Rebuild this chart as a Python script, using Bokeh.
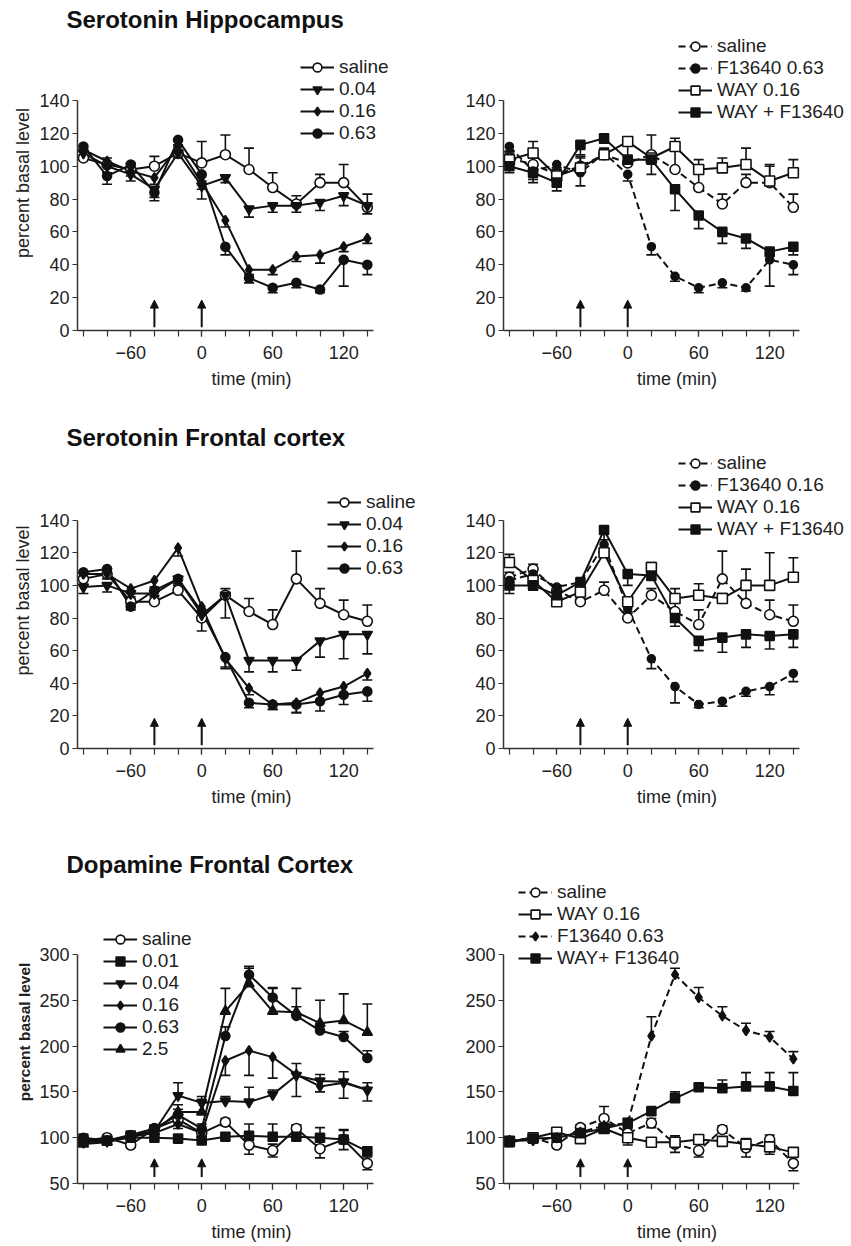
from bokeh.plotting import figure
from bokeh.models import (ColumnDataSource, Whisker, TeeHead, Legend, LegendItem,
                          FixedTicker, Range1d, Arrow, NormalHead)
from bokeh.layouts import column, row
from bokeh.embed import file_html
from bokeh.resources import INLINE

# ---------------------------------------------------------------- data
time_min = [-100, -80, -60, -40, -20, 0, 20, 40, 60, 80, 100, 120, 140]
injection_times = [-40, 0]
x_major_ticks = [-60, 0, 60, 120]
x_minor_ticks = [-100, -80, -60, -40, -20, 0, 20, 40, 60, 80, 100, 120, 140]
ticks_5ht = [0, 20, 40, 60, 80, 100, 120, 140]
ticks_da = [50, 100, 150, 200, 250, 300]

section_titles = ["Serotonin Hippocampus", "Serotonin Frontal cortex", "Dopamine Frontal Cortex"]

# Serotonin hippocampus - dose response
hippA_labels = ["saline", "0.04", "0.16", "0.63"]
hippA_saline = [105, 101, 98, 100, 108, 102, 107, 98, 87, 77, 90, 90, 75]
hippA_saline_err = [4, 4, 4, 6, 4, 13, 12, 13, 9, 5, 5, 11, 8]
hippA_004 = [108, 100, 95, 86, 108, 88, 93, 74, 76, 76, 78, 82, 76]
hippA_004_err = [3, 4, 4, 5, 3, 8, 3, 5, 4, 4, 5, 6, 5]
hippA_016 = [110, 103, 97, 93, 112, 90, 67, 37, 37, 45, 46, 51, 56]
hippA_016_err = [3, 3, 3, 4, 3, 4, 4, 3, 3, 3, 5, 3, 3]
hippA_063 = [112, 94, 101, 84, 116, 95, 51, 32, 26, 29, 25, 43, 40]
hippA_063_err = [3, 5, 3, 5, 3, 4, 5, 3, 3, 3, 2, 16, 6]

# Serotonin hippocampus - WAY100635 interaction
hippB_labels = ["saline", "F13640 0.63", "WAY 0.16", "WAY + F13640"]
hippB_saline = [105, 101, 95, 100, 107, 102, 107, 98, 87, 77, 90, 90, 75]
hippB_saline_err = [4, 4, 4, 6, 4, 13, 12, 13, 9, 6, 5, 11, 8]
hippB_f = [112, 97, 101, 96, 108, 95, 51, 33, 26, 29, 26, 43, 40]
hippB_f_err = [3, 5, 3, 8, 3, 4, 5, 3, 3, 3, 2, 16, 6]
hippB_way = [104, 108, 94, 99, 107, 115, 105, 112, 98, 99, 101, 91, 96]
hippB_way_err = [4, 7, 4, 6, 3, 2, 3, 5, 6, 6, 10, 9, 8]
hippB_wayf = [100, 96, 90, 113, 117, 104, 104, 86, 70, 60, 56, 48, 51]
hippB_wayf_err = [4, 6, 5, 6, 3, 3, 9, 13, 8, 7, 6, 3, 5]

# Serotonin frontal cortex - dose response
frA_labels = ["saline", "0.04", "0.16", "0.63"]
frA_saline = [104, 107, 90, 90, 97, 80, 94, 84, 76, 104, 89, 82, 78]
frA_saline_err = [4, 3, 3, 3, 3, 4, 4, 8, 9, 17, 9, 9, 10]
frA_004 = [99, 100, 95, 95, 104, 82, 94, 54, 54, 54, 66, 70, 70]
frA_004_err = [4, 4, 3, 4, 4, 10, 14, 7, 7, 6, 10, 15, 12]
frA_016 = [107, 107, 98, 103, 123, 87, 55, 37, 27, 28, 34, 38, 46]
frA_016_err = [3, 3, 3, 4, 5, 3, 6, 4, 3, 6, 5, 5, 4]
frA_063 = [108, 110, 87, 97, 104, 84, 56, 28, 27, 27, 29, 33, 35]
frA_063_err = [3, 3, 2, 3, 3, 6, 6, 3, 3, 5, 6, 6, 6]

# Serotonin frontal cortex - WAY100635 interaction
frB_labels = ["saline", "F13640 0.16", "WAY 0.16", "WAY + F13640"]
frB_saline = [105, 110, 97, 90, 97, 80, 94, 84, 76, 104, 89, 82, 78]
frB_saline_err = [3, 3, 3, 3, 5, 4, 4, 8, 9, 17, 9, 9, 10]
frB_f = [103, 107, 99, 102, 125, 86, 55, 38, 27, 29, 35, 38, 46]
frB_f_err = [3, 3, 3, 3, 5, 3, 6, 10, 2, 3, 3, 5, 5]
frB_way = [114, 103, 90, 96, 120, 90, 111, 92, 94, 92, 100, 100, 105]
frB_way_err = [5, 3, 3, 3, 3, 3, 3, 6, 7, 3, 10, 20, 12]
frB_wayf = [100, 100, 94, 102, 134, 107, 106, 80, 66, 68, 70, 69, 70]
frB_wayf_err = [5, 3, 3, 3, 6, 7, 3, 5, 6, 9, 8, 8, 8]

# Dopamine frontal cortex - dose response
daA_labels = ["saline", "0.01", "0.04", "0.16", "0.63", "2.5"]
daA_saline = [97, 100, 92, 110, 120, 105, 117, 92, 86, 110, 88, 98, 72]
daA_saline_err = [5, 3, 3, 3, 5, 4, 4, 10, 7, 4, 10, 11, 7]
daA_001 = [97, 97, 100, 100, 99, 97, 101, 102, 101, 101, 100, 98, 85]
daA_001_err = [6, 4, 4, 4, 3, 3, 4, 13, 14, 12, 11, 10, 5]
daA_004 = [95, 96, 103, 107, 146, 138, 140, 139, 147, 168, 162, 161, 152]
daA_004_err = [5, 4, 4, 5, 14, 7, 5, 16, 5, 13, 7, 11, 8]
daA_016 = [97, 97, 101, 105, 115, 105, 184, 195, 188, 169, 156, 160, 152]
daA_016_err = [4, 4, 4, 4, 5, 4, 16, 27, 23, 24, 6, 17, 12]
daA_063 = [100, 97, 103, 110, 125, 110, 211, 278, 253, 233, 217, 210, 187]
daA_063_err = [4, 4, 4, 4, 6, 5, 10, 9, 10, 10, 8, 6, 8]
daA_25 = [93, 95, 101, 107, 128, 128, 238, 268, 238, 237, 225, 228, 215]
daA_25_err = [4, 4, 4, 4, 8, 14, 25, 17, 26, 26, 25, 29, 31]

# Dopamine frontal cortex - WAY100635 interaction
daB_labels = ["saline", "WAY 0.16", "F13640 0.63", "WAY+ F13640"]
daB_saline = [96, 100, 92, 111, 121, 105, 116, 93, 86, 109, 89, 98, 72]
daB_saline_err = [5, 3, 3, 3, 13, 5, 5, 9, 7, 4, 10, 5, 8]
daB_way = [96, 100, 106, 99, 110, 100, 95, 95, 98, 96, 93, 90, 84]
daB_way_err = [5, 3, 3, 3, 3, 8, 3, 3, 3, 3, 3, 8, 3]
daB_f = [97, 97, 100, 106, 113, 116, 211, 278, 253, 233, 217, 210, 186]
daB_f_err = [4, 3, 3, 3, 5, 5, 21, 7, 11, 10, 8, 6, 8]
daB_wayf = [95, 99, 100, 105, 110, 116, 129, 143, 155, 154, 156, 156, 151]
daB_wayf_err = [4, 3, 3, 3, 5, 5, 4, 7, 3, 9, 15, 15, 20]

# ---------------------------------------------------------------- styles
INK = "#111111"
FONT = "Liberation Sans"
X_START = -105.0
X_BOUND_END = 145.0
PX_PER_MIN = 1.183
ENTRY_H = 22

ST = {
    "o":  dict(marker="circle", fill="white", size=10, dash="solid"),
    "o-": dict(marker="circle", fill="white", size=10, dash="7 4"),
    "v":  dict(marker="inverted_triangle", fill=INK, size=10, dash="solid"),
    "d":  dict(marker="diamond", fill=INK, size=10, dash="solid"),
    "d-": dict(marker="diamond", fill=INK, size=10, dash="7 4"),
    "c":  dict(marker="circle", fill=INK, size=9, dash="solid"),
    "c-": dict(marker="circle", fill=INK, size=8, dash="7 4"),
    "s":  dict(marker="square", fill=INK, size=9, dash="solid"),
    "so": dict(marker="square", fill="white", size=10, dash="solid"),
    "t":  dict(marker="triangle", fill=INK, size=10, dash="solid"),
}


def make_panel(series, w, h, mb_left, mb_right, mb_top, mb_bottom, y_start,
               px_per_unit, y_bound_top, y_ticks, legend_x, legend_top, arrow_span,
               title=None, title_standoff=0, ylabel=None, ylabel_bold=False, ylabel_size="18px"):
    frame_w = w - mb_left - mb_right
    frame_h = h - mb_top - mb_bottom
    x_end = X_START + frame_w / PX_PER_MIN
    y_end = y_start + frame_h / px_per_unit
    p = figure(width=w, height=h, output_backend="svg", toolbar_location=None,
               x_range=Range1d(X_START, x_end), y_range=Range1d(y_start, y_end),
               min_border_left=mb_left, min_border_right=mb_right,
               min_border_top=mb_top, min_border_bottom=mb_bottom)
    p.outline_line_color = None
    p.xgrid.visible = False
    p.ygrid.visible = False

    if title:
        p.title.text = title
        p.title.align = "left"
        p.title.offset = -11
        p.title.standoff = title_standoff
        p.title.text_font = FONT
        p.title.text_font_size = "24px"
        p.title.text_font_style = "bold"
        p.title.text_color = "#111111"

    # axes
    p.xaxis.bounds = (X_START, X_BOUND_END)
    p.xaxis.ticker = FixedTicker(ticks=x_major_ticks, minor_ticks=x_minor_ticks)
    p.yaxis.bounds = (y_start, y_bound_top)
    p.yaxis.ticker = FixedTicker(ticks=y_ticks, minor_ticks=[])
    for ax in (p.xaxis[0], p.yaxis[0]):
        ax.axis_line_color = "#333333"
        ax.axis_line_width = 1.5
        ax.major_tick_line_color = "#333333"
        ax.minor_tick_line_color = "#333333"
        ax.major_tick_line_width = 1.2
        ax.minor_tick_line_width = 1.2
        ax.major_tick_in = 0
        ax.minor_tick_in = 0
        ax.major_label_text_font = FONT
        ax.major_label_text_font_size = "18px"
        ax.major_label_text_color = "#222222"
        ax.axis_label_text_font = FONT
        ax.axis_label_text_color = "#222222"
        ax.axis_label_text_font_style = "normal"
    p.xaxis.major_tick_out = 6
    p.xaxis.minor_tick_out = 6
    p.xaxis.major_label_standoff = 9
    p.xaxis.axis_label = "time (min)"
    p.xaxis.axis_label_text_font_size = "18px"
    p.xaxis.axis_label_standoff = 7
    p.yaxis.major_tick_out = 5
    p.yaxis.major_label_standoff = 3
    if ylabel:
        p.yaxis.axis_label = ylabel
        p.yaxis.axis_label_text_font_size = ylabel_size
        p.yaxis.axis_label_text_font_style = "bold" if ylabel_bold else "normal"
        p.yaxis.axis_label_standoff = 3

    # error bars, lines, markers
    line_rs, items = [], []
    for label, vals, errs, direction, key in series:
        st = ST[key]
        up = [v + e if direction in ("up", "both") else v for v, e in zip(vals, errs)]
        lo = [v - e if direction in ("down", "both") else v for v, e in zip(vals, errs)]
        src = ColumnDataSource(dict(x=time_min, y=vals, upper=up, lower=lo))
        wh = Whisker(source=src, base="x", upper="upper", lower="lower",
                     line_color=INK, line_width=1.6,
                     upper_head=TeeHead(size=10, line_color=INK, line_width=1.6) if direction in ("up", "both") else None,
                     lower_head=TeeHead(size=10, line_color=INK, line_width=1.6) if direction in ("down", "both") else None)
        p.add_layout(wh)
        lr = p.line("x", "y", source=src, line_color=INK, line_width=2, line_dash=st["dash"])
        line_rs.append((label, lr, src, st))
    for label, lr, src, st in line_rs:
        mr = p.scatter("x", "y", source=src, marker=st["marker"], size=st["size"],
                       fill_color=st["fill"], line_color=INK, line_width=1.6)
        items.append(LegendItem(label=label, renderers=[lr, mr]))

    # legend: location is its bottom-left corner, measured from the frame's bottom-left
    legend_y = frame_h - (legend_top - mb_top) - ENTRY_H * len(items)
    legend = Legend(items=items, location=(legend_x, legend_y),
                    label_text_font=FONT, label_text_font_size="19px", label_text_color="#222222",
                    glyph_width=34, glyph_height=ENTRY_H, label_height=ENTRY_H, label_standoff=5,
                    spacing=0, padding=0, margin=0,
                    border_line_color=None, background_fill_alpha=0)
    p.add_layout(legend)

    for t in injection_times:
        p.add_layout(Arrow(x_start=t, y_start=arrow_span[0], x_end=t, y_end=arrow_span[1],
                           line_color=INK, line_width=2,
                           end=NormalHead(size=8, fill_color=INK, line_color=INK, line_width=1)))
    return p


LEFT_W, RIGHT_W = 430, 420
LEFT_MBL, RIGHT_MBL = 77, 73
ROW_H = [420, 420, 404]
ROW_MBT = [35, 30, 40]     # frames of one row share their top edge
ROW_MBB = [90, 92, 61]

pA = make_panel(
    [(hippA_labels[0], hippA_saline, hippA_saline_err, "up", "o"),
     (hippA_labels[1], hippA_004, hippA_004_err, "down", "v"),
     (hippA_labels[2], hippA_016, hippA_016_err, "down", "d"),
     (hippA_labels[3], hippA_063, hippA_063_err, "down", "c")],
    LEFT_W, ROW_H[0], LEFT_MBL, 5, ROW_MBT[0], ROW_MBB[0], 0, 1.643, 140, ticks_5ht,
    223, 56, (2, 18.5), title=section_titles[0], title_standoff=5,
    ylabel="percent basal level")
pB = make_panel(
    [(hippB_labels[0], hippB_saline, hippB_saline_err, "up", "o-"),
     (hippB_labels[1], hippB_f, hippB_f_err, "down", "c-"),
     (hippB_labels[2], hippB_way, hippB_way_err, "up", "so"),
     (hippB_labels[3], hippB_wayf, hippB_wayf_err, "down", "s")],
    RIGHT_W, ROW_H[0], RIGHT_MBL, 0, ROW_MBT[0], ROW_MBB[0], 0, 1.643, 140, ticks_5ht,
    175, 35, (2, 18.5))

pC = make_panel(
    [(frA_labels[0], frA_saline, frA_saline_err, "up", "o"),
     (frA_labels[1], frA_004, frA_004_err, "down", "v"),
     (frA_labels[2], frA_016, frA_016_err, "down", "d"),
     (frA_labels[3], frA_063, frA_063_err, "down", "c")],
    LEFT_W, ROW_H[1], LEFT_MBL, 5, ROW_MBT[1], ROW_MBB[1], 0, 1.642, 140, ticks_5ht,
    250, 71, (2, 18.5), title=section_titles[1], title_standoff=3,
    ylabel="percent basal level")
pD = make_panel(
    [(frB_labels[0], frB_saline, frB_saline_err, "up", "o-"),
     (frB_labels[1], frB_f, frB_f_err, "down", "c-"),
     (frB_labels[2], frB_way, frB_way_err, "up", "so"),
     (frB_labels[3], frB_wayf, frB_wayf_err, "down", "s")],
    RIGHT_W, ROW_H[1], RIGHT_MBL, 0, ROW_MBT[1], ROW_MBB[1], 0, 1.642, 140, ticks_5ht,
    175, 32, (2, 18.5))

pE = make_panel(
    [(daA_labels[0], daA_saline, daA_saline_err, "both", "o"),
     (daA_labels[1], daA_001, daA_001_err, "up", "s"),
     (daA_labels[2], daA_004, daA_004_err, "up", "v"),
     (daA_labels[3], daA_016, daA_016_err, "down", "d"),
     (daA_labels[4], daA_063, daA_063_err, "up", "c"),
     (daA_labels[5], daA_25, daA_25_err, "up", "t")],
    LEFT_W, ROW_H[2], LEFT_MBL, 5, ROW_MBT[2], ROW_MBB[2], 50, 0.916, 300, ticks_da,
    26, 88, (57, 77), title=section_titles[2], title_standoff=5,
    ylabel="percent basal level", ylabel_bold=True, ylabel_size="15.5px")
pF = make_panel(
    [(daB_labels[0], daB_saline, daB_saline_err, "both", "o-"),
     (daB_labels[1], daB_way, daB_way_err, "down", "so"),
     (daB_labels[2], daB_f, daB_f_err, "up", "d-"),
     (daB_labels[3], daB_wayf, daB_wayf_err, "up", "s")],
    RIGHT_W, ROW_H[2], RIGHT_MBL, 0, ROW_MBT[2], ROW_MBB[2], 50, 0.916, 300, ticks_da,
    15, 41, (57, 77))

layout = column(row(pA, pB), row(pC, pD), row(pE, pF))
open("out.html", "w").write(file_html(layout, INLINE))
